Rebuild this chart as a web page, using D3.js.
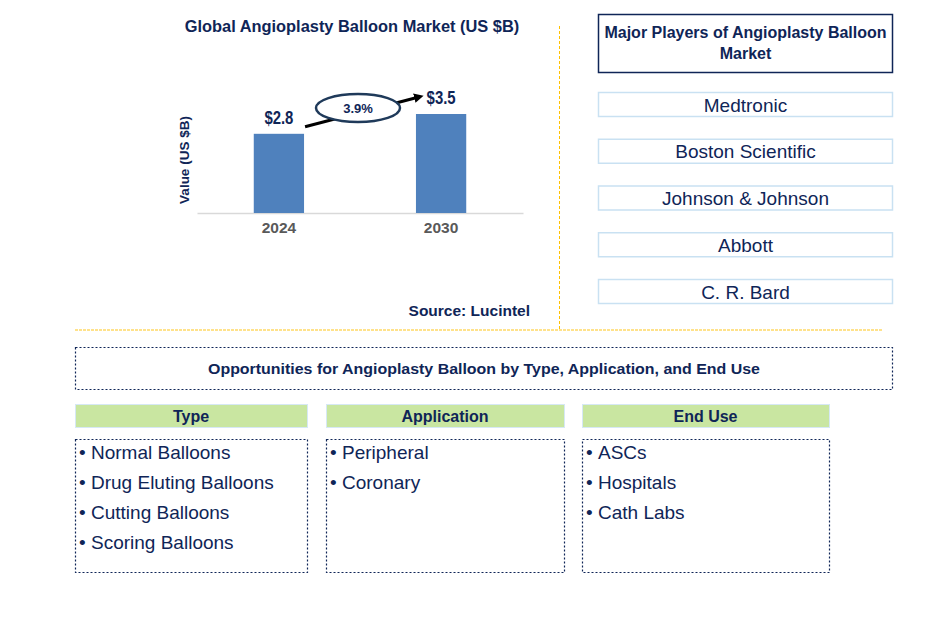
<!DOCTYPE html>
<html><head><meta charset="utf-8">
<script src="https://cdn.jsdelivr.net/npm/d3@7/dist/d3.min.js"></script>
<style>body{margin:0;background:#fff;} svg{display:block;font-family:"Liberation Sans",Arial,sans-serif;}</style>
</head><body>
<svg id="c" width="943" height="635"></svg>
<script>
const years = ["2024", "2030"];
const values = [2.8, 3.5];
const valueLabels = ["$2.8", "$3.5"];
const cagr = "3.9%";
const players = ["Medtronic", "Boston Scientific", "Johnson & Johnson", "Abbott", "C. R. Bard"];
const segmentTitles = ["Type", "Application", "End Use"];
const typeItems = ["Normal Balloons", "Drug Eluting Balloons", "Cutting Balloons", "Scoring Balloons"];
const applicationItems = ["Peripheral", "Coronary"];
const endUseItems = ["ASCs", "Hospitals", "Cath Labs"];

const navy = "#0F2557";
const svg = d3.select("#c");

// Title
svg.append("text").attr("x", 352).attr("y", 32).attr("text-anchor", "middle")
  .attr("font-weight", "bold").attr("font-size", 16.4).attr("fill", navy)
  .text("Global Angioplasty Balloon Market (US $B)");

// Scales
const x = d3.scaleBand().domain(years).range([197, 523]).paddingInner(0.69).paddingOuter(0.35);
const y = d3.scaleLinear().domain([0, 3.5]).range([213, 114]);

// baseline axis
const xAxis = d3.axisBottom(x).tickSize(0).tickPadding(9);
const gx = svg.append("g").attr("transform", "translate(0,213)").call(xAxis);
gx.select(".domain").attr("stroke", "#D9D9D9").attr("stroke-width", 1.5);
gx.selectAll("text").attr("font-size", 15.5).attr("font-weight", "bold").attr("fill", "#595959")
  .attr("font-family", "Liberation Sans, Arial, sans-serif");

// bars
svg.selectAll("rect.bar").data(values).enter().append("rect").attr("class", "bar")
  .attr("x", (d, i) => x(years[i])).attr("width", x.bandwidth())
  .attr("y", d => y(d)).attr("height", d => y(0) - y(d)).attr("fill", "#4F81BD");

svg.selectAll("text.vl").data(values).enter().append("text").attr("class", "vl")
  .attr("x", (d, i) => x(years[i]) + x.bandwidth() / 2).attr("y", d => y(d) - 10)
  .attr("text-anchor", "middle").attr("font-weight", "bold").attr("font-size", 17.5).attr("fill", navy)
  .attr("textLength", 29).attr("lengthAdjust", "spacingAndGlyphs")
  .text((d, i) => valueLabels[i]);

// y axis label
svg.append("text").attr("transform", "translate(189,160) rotate(-90)").attr("text-anchor", "middle")
  .attr("font-weight", "bold").attr("font-size", 13.5).attr("fill", navy).text("Value (US $B)");

// arrow
const defs = svg.append("defs");
defs.append("marker").attr("id", "ah").attr("viewBox", "0 0 10 10").attr("refX", 5).attr("refY", 5)
  .attr("markerWidth", 3.2).attr("markerHeight", 3.2).attr("orient", "auto")
  .append("path").attr("d", "M0,0 L10,5 L0,10 z").attr("fill", "#000");
const x0 = x(years[0]) + x.bandwidth(), x1 = x(years[1]);
svg.append("line").attr("x1", x0 + 1).attr("y1", y(values[0]) - 7).attr("x2", x1 + 3).attr("y2", y(values[1]) - 17)
  .attr("stroke", "#000").attr("stroke-width", 3).attr("marker-end", "url(#ah)");
svg.append("ellipse").attr("cx", 358).attr("cy", 108).attr("rx", 42).attr("ry", 14)
  .attr("fill", "#fff").attr("stroke", "#1F3A5A").attr("stroke-width", 2.5);
svg.append("text").attr("x", 358).attr("y", 112.5).attr("text-anchor", "middle")
  .attr("font-weight", "bold").attr("font-size", 13).attr("fill", navy).text(cagr);

// source
svg.append("text").attr("x", 530).attr("y", 316).attr("text-anchor", "end")
  .attr("font-weight", "bold").attr("font-size", 15.5).attr("fill", navy).text("Source: Lucintel");

// separators
svg.append("line").attr("x1", 559.5).attr("x2", 559.5).attr("y1", 26).attr("y2", 331)
  .attr("stroke", "#FFC000").attr("stroke-width", 1).attr("stroke-dasharray", "3,2");
svg.append("line").attr("x1", 75).attr("x2", 883).attr("y1", 330).attr("y2", 330)
  .attr("stroke", "#FFD966").attr("stroke-width", 1.5).attr("stroke-dasharray", "3,1");

// Major players
svg.append("rect").attr("x", 598.5).attr("y", 14.5).attr("width", 294).attr("height", 58)
  .attr("fill", "#fff").attr("stroke", "#0F2557").attr("stroke-width", 1.5);
const mp = svg.append("text").attr("text-anchor", "middle").attr("font-weight", "bold")
  .attr("font-size", 16).attr("fill", navy);
mp.append("tspan").attr("x", 745.5).attr("y", 38).text("Major Players of Angioplasty Balloon");
mp.append("tspan").attr("x", 745.5).attr("y", 59).text("Market");

const py = d3.scalePoint().domain(players).range([104.5, 291.5]);
players.forEach(p => {
  svg.append("rect").attr("x", 598.5).attr("y", py(p) - 12).attr("width", 294).attr("height", 24)
    .attr("fill", "#fff").attr("stroke", "#C9E1F2").attr("stroke-width", 1.5);
  svg.append("text").attr("x", 745.5).attr("y", py(p) + 7).attr("text-anchor", "middle")
    .attr("font-size", 19).attr("fill", navy).text(p);
});

// Opportunities box
svg.append("rect").attr("x", 75.5).attr("y", 347.5).attr("width", 817).attr("height", 42)
  .attr("fill", "none").attr("stroke", navy).attr("stroke-width", 1.2).attr("stroke-dasharray", "2,2");
svg.append("text").attr("x", 484).attr("y", 373.5).attr("text-anchor", "middle")
  .attr("font-weight", "bold").attr("font-size", 15.5).attr("fill", navy)
  .attr("textLength", 552).attr("lengthAdjust", "spacingAndGlyphs")
  .text("Opportunities for Angioplasty Balloon by Type, Application, and End Use");

// Segments
const cols = [
  {x: 75, w: 232, items: typeItems},
  {x: 326, w: 238, items: applicationItems},
  {x: 582, w: 247, items: endUseItems}
];
cols.forEach((c, i) => {
  svg.append("rect").attr("x", c.x + 0.5).attr("y", 404.5).attr("width", c.w).attr("height", 23)
    .attr("fill", "#C9E6A1").attr("stroke", "#D6E8F5").attr("stroke-width", 1);
  svg.append("text").attr("x", c.x + c.w / 2).attr("y", 421.5).attr("text-anchor", "middle")
    .attr("font-weight", "bold").attr("font-size", 16).attr("fill", navy).text(segmentTitles[i]);
  svg.append("rect").attr("x", c.x + 0.5).attr("y", 439.5).attr("width", c.w).attr("height", 133)
    .attr("fill", "none").attr("stroke", navy).attr("stroke-width", 1.2).attr("stroke-dasharray", "2,2");
  c.items.forEach((it, j) => {
    const t = svg.append("text").attr("y", 459 + j * 30).attr("font-size", 19).attr("fill", navy);
    t.append("tspan").attr("x", c.x + 4).text("•");
    t.append("tspan").attr("x", c.x + 16).text(it);
  });
});
</script>
</body></html>
